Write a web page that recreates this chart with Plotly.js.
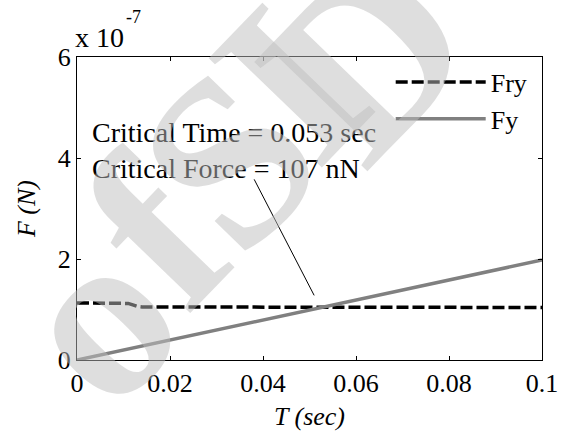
<!DOCTYPE html>
<html>
<head>
<meta charset="utf-8">
<script src="https://cdn.plot.ly/plotly-3.0.1.min.js"></script>
<style>
html,body{margin:0;padding:0;background:#fff;}
#chart{width:568px;height:431px;}
</style>
</head>
<body>
<div id="chart"></div>
<script>
// Time axis (s) and forces in units of 1e-7 N
var tFry = [0, 0.005, 0.010, 0.011, 0.012, 0.013, 0.014, 0.02, 0.03, 0.04, 0.05, 0.06, 0.07, 0.08, 0.09, 0.1];
var Fry  = [1.13, 1.13, 1.13, 1.12, 1.09, 1.06, 1.05, 1.05, 1.05, 1.05, 1.045, 1.04, 1.04, 1.04, 1.04, 1.04];
var tFy  = [0, 0.01, 0.02, 0.03, 0.04, 0.05, 0.06, 0.07, 0.08, 0.09, 0.1];
var Fy   = [0, 0.198, 0.396, 0.594, 0.792, 0.99, 1.188, 1.386, 1.584, 1.782, 1.98];
var xTicks = [0, 0.02, 0.04, 0.06, 0.08, 0.1];
var xTickText = ['0', '0.02', '0.04', '0.06', '0.08', '0.1'];
var yTicks = [0, 2, 4, 6];
var yTickText = ['0', '2', '4', '6'];
var seriesNames = ['Fry', 'Fy'];
var critTime = 0.053, critForce = 107;
var arrowTip = [0.051, 1.28];
// watermark letters
var wmLetters = ['o', 'f', 'S', 'I', 'D'];

var FONT = '"Liberation Serif", "Times New Roman", serif';
var FS = 26;

var traces = [
  {x: tFry, y: Fry, name: seriesNames[0], mode: 'lines',
   line: {color: '#000000', width: 3.5, dash: '12px,4px'}},
  {x: tFy, y: Fy, name: seriesNames[1], mode: 'lines',
   line: {color: '#808080', width: 3.5}}
];

var axisCommon = {
  showline: true, linecolor: '#000', linewidth: 1, mirror: 'ticks',
  ticks: 'inside', ticklen: 4, tickcolor: '#000', tickwidth: 1,
  showgrid: false, zeroline: false,
  tickfont: {family: FONT, size: FS, color: '#000'}
};

// watermark letter centres, in page pixels
var wmPos = [[94, 318], [156, 232], [228, 160], [290, 84], [366, 56]];
var W = 568, H = 431, ML = 77, MR = 26, MT = 57, MB = 71;
function px2paper(p) {
  return [(p[0] - ML) / (W - ML - MR), (H - MB - p[1]) / (H - MT - MB)];
}
var wmAnn = wmLetters.map(function (ch, i) {
  var q = px2paper(wmPos[i]);
  return {xref: 'paper', yref: 'paper', x: q[0], y: q[1], xanchor: 'center', yanchor: 'middle',
    text: '<b>' + ch + '</b>', showarrow: false, textangle: -46,
    font: {family: FONT, size: 240, color: 'rgba(190,190,190,0.5)', weight: 'bold'}};
});

var layout = {
  width: W, height: H,
  margin: {l: ML, r: MR, t: MT, b: MB},
  paper_bgcolor: '#fff', plot_bgcolor: '#fff',
  showlegend: true,
  font: {family: FONT, size: FS, color: '#000'},
  xaxis: Object.assign({}, axisCommon, {
    range: [0, 0.1], tickmode: 'array', tickvals: xTicks, ticktext: xTickText,
    title: {text: 'T (sec)', font: {family: FONT, size: FS, style: 'italic'}, standoff: 12}
  }),
  yaxis: Object.assign({}, axisCommon, {
    range: [0, 6], tickmode: 'array', tickvals: yTicks, ticktext: yTickText,
    title: {text: 'F (N)', font: {family: FONT, size: FS, style: 'italic'}, standoff: 14}
  }),
  legend: {
    x: 0.98, y: 0.995, xanchor: 'right', yanchor: 'top',
    bgcolor: 'rgba(0,0,0,0)', borderwidth: 0,
    font: {family: FONT, size: FS, color: '#000'},
    itemwidth: 90, tracegroupgap: 0
  },
  annotations: [
    {xref: 'paper', yref: 'paper', x: 0, y: 1.063, xanchor: 'left', yanchor: 'middle',
     text: 'x 10', showarrow: false, font: {family: FONT, size: 28}, xshift: -4},
    {xref: 'paper', yref: 'paper', x: 0, y: 1.132, xanchor: 'left', yanchor: 'middle',
     text: '-7', showarrow: false, font: {family: FONT, size: 18}, xshift: 47},
    {xref: 'paper', yref: 'paper', x: 0.029, y: 0.693, xanchor: 'left', yanchor: 'middle',
     text: 'Critical Time = ' + critTime + ' sec<br>Critical Force = ' + critForce + ' nN',
     align: 'left', showarrow: false, font: {family: FONT, size: 28}},
    {xref: 'x', yref: 'y', x: arrowTip[0], y: arrowTip[1], text: ' ',
     showarrow: true, arrowhead: 0, arrowwidth: 1, arrowcolor: '#000',
     ax: -61, ay: -118, font: {size: 1}}
  ].concat(wmAnn)
};

Plotly.newPlot('chart', traces, layout, {displayModeBar: false, staticPlot: true});
</script>
</body>
</html>
